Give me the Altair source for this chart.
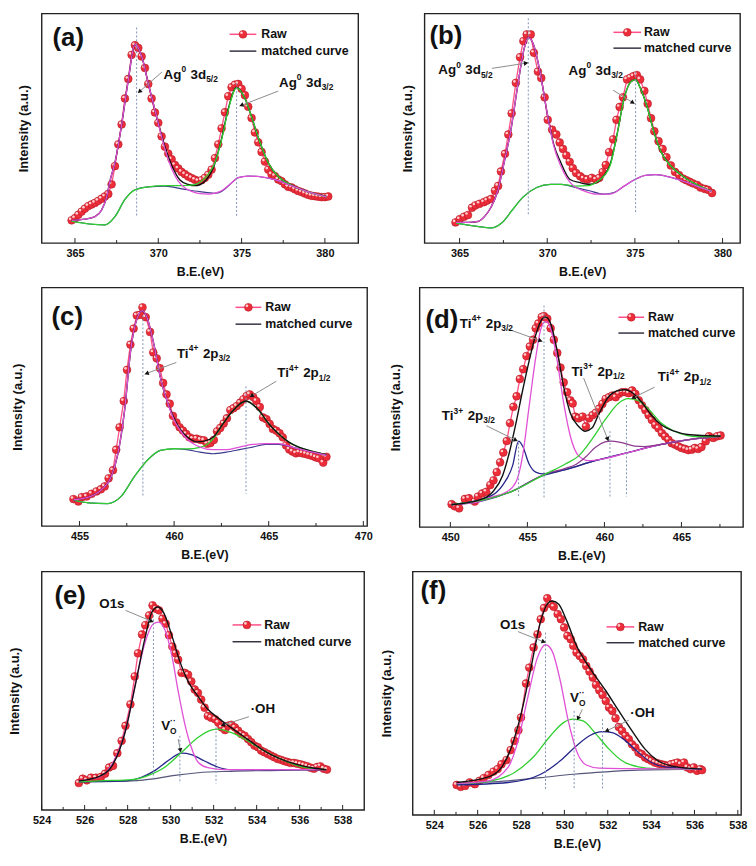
import math
import altair as alt
import pandas as pd

FONT = "Liberation Sans"

# ---------------- panel (a) : Ag 3d ----------------
A_RAW_X = [364.8, 365.0, 365.2, 365.4, 365.6, 365.8, 366.0, 366.2, 366.4, 366.6,
           366.8, 367.0, 367.2, 367.4, 367.6, 367.8, 368.0, 368.2, 368.4, 368.6,
           368.8, 369.0, 369.2, 369.4, 369.6, 369.8, 370.0, 370.2, 370.4, 370.6,
           370.8, 371.0, 371.2, 371.4, 371.6, 371.8, 372.0, 372.2, 372.4, 372.6,
           372.8, 373.0, 373.2, 373.4, 373.6, 373.8, 374.0, 374.2, 374.4, 374.6,
           374.8, 375.0, 375.2, 375.4, 375.6, 375.8, 376.0, 376.2, 376.4, 376.6,
           376.8, 377.0, 377.2, 377.4, 377.6, 377.8, 378.0, 378.2, 378.4, 378.6,
           378.8, 379.0, 379.2, 379.4, 379.6, 379.8, 380.0, 380.2]
A_RAW_Y = [9.9, 10.8, 12.3, 13.7, 15.0, 16.1, 16.8, 17.5, 18.4, 19.3,
           20.3, 21.4, 25.6, 33.5, 43.0, 51.7, 63.0, 71.5, 82.0, 86.2,
           85.0, 81.3, 76.3, 69.3, 63.0, 56.9, 52.4, 46.5, 42.0, 39.0,
           36.5, 34.0, 32.5, 31.0, 30.0, 29.0, 28.3, 27.6, 27.0, 27.4,
           28.4, 29.8, 32.0, 37.0, 43.0, 50.0, 57.0, 64.0, 67.9, 69.0,
           69.3, 67.2, 64.4, 59.4, 54.5, 48.2, 43.9, 39.7, 35.5, 32.0,
           29.9, 29.2, 27.7, 27.0, 25.6, 24.5, 24.2, 23.4, 22.7, 22.2,
           21.6, 21.0, 20.6, 20.4, 20.2, 20.0, 20.0, 20.3]
A_BG_X = [364.8, 366.0, 366.8, 367.4, 368.0, 368.6, 369.4, 370.4, 371.5, 372.5,
          373.4, 373.8, 374.3, 374.8, 375.4, 376.0, 377.0, 378.0, 379.0, 380.1]
A_BG_Y = [9.6, 8.2, 7.9, 11.5, 19.0, 23.2, 24.5, 24.8, 23.5, 22.4,
          21.7, 22.5, 25.5, 28.5, 29.2, 29.0, 27.6, 25.0, 22.3, 20.1]
A_PK_X = [364.8, 365.6, 366.2, 366.6, 366.9, 367.1, 367.4, 367.8, 368.2, 368.6,
          369.0, 369.4, 370.0, 370.4, 370.8, 371.2, 371.6, 372.0, 372.5, 373.0,
          373.4, 373.8, 374.3, 374.8, 375.4, 376.0, 377.0, 378.0, 379.0, 380.1]
A_PK_Y = [9.9, 10.4, 11.5, 14.4, 20.0, 27.0, 35.0, 51.5, 71.0, 86.5,
          81.5, 69.5, 52.2, 41.0, 32.5, 27.0, 24.0, 22.5, 21.5, 21.3,
          21.7, 22.8, 25.6, 28.5, 29.2, 29.0, 27.6, 25.0, 22.3, 20.1]
A_GR_X = [364.8, 366.0, 366.8, 367.4, 368.0, 368.6, 369.4, 370.4, 371.5, 372.2,
          372.6, 373.0, 373.4, 373.8, 374.2, 374.7, 375.2, 375.6, 376.0, 376.6,
          377.2, 378.0, 379.0, 380.1]
A_GR_Y = [9.6, 8.2, 7.9, 11.5, 19.0, 23.2, 24.5, 25.0, 25.0, 25.5,
          27.0, 30.0, 35.0, 45.0, 58.0, 67.6, 63.0, 55.0, 46.0, 35.0,
          29.0, 25.2, 22.3, 20.1]
A_BK_X = [364.8, 365.6, 366.2, 366.6, 366.9, 367.1, 367.4, 367.8, 368.2, 368.6,
          369.0, 369.4, 370.0, 370.4, 370.8, 371.3, 371.8, 372.2, 372.5, 372.9,
          373.3, 373.8, 374.2, 374.7, 375.2, 375.6, 376.0, 376.6, 377.2, 378.0,
          379.0, 380.1]
A_BK_Y = [9.9, 10.4, 11.5, 14.4, 20.0, 27.0, 35.0, 51.5, 71.0, 86.5,
          81.5, 69.5, 52.4, 42.0, 34.0, 27.5, 25.5, 25.0, 25.4, 27.7,
          32.7, 45.5, 58.5, 67.8, 63.0, 55.0, 46.0, 35.0, 29.0, 25.2,
          22.3, 20.3]
A_DOT_X = [368.7, 374.7]
A_DOT_Y1 = [93.9, 69.6]
A_DOT_Y2 = [11.5, 11.5]
A_TXT_X = [370.32, 377.25]
A_TXT_Y = [71.6, 68.2]
A_ARR = [[370.22, 74.5, 368.78, 65.4], [377.2, 66.2, 374.88, 59.7]]

# ---------------- panel (b) : Ag 3d ----------------
B_RAW_X = [364.77, 365.01, 365.26, 365.48, 365.71, 365.9, 366.14, 366.39, 366.57, 366.8,
           367.02, 367.2, 367.36, 367.59, 367.78, 367.97, 368.21, 368.45, 368.64, 368.83,
           369.06, 369.24, 369.47, 369.66, 369.85, 370.03, 370.28, 370.52, 370.71, 370.9,
           371.09, 371.28, 371.46, 371.65, 371.88, 372.07, 372.29, 372.54, 372.78, 372.97,
           373.16, 373.34, 373.53, 373.76, 373.95, 374.13, 374.32, 374.55, 374.74, 374.92,
           375.11, 375.3, 375.54, 375.73, 375.92, 376.11, 376.35, 376.58, 376.8, 377.05,
           377.29, 377.52, 377.75, 377.93, 378.12, 378.31, 378.55, 378.74, 378.99, 379.17,
           379.4]
B_RAW_Y = [9.0, 10.4, 11.5, 12.2, 15.4, 16.4, 17.1, 17.8, 18.5, 19.2,
           22.8, 24.9, 31.2, 38.9, 47.3, 56.5, 69.8, 81.0, 88.0, 90.9,
           90.9, 82.9, 74.7, 71.9, 63.5, 53.7, 49.4, 47.3, 43.8, 41.0,
           38.2, 35.4, 32.6, 30.5, 29.1, 28.1, 27.7, 28.4, 27.7, 28.4,
           30.9, 34.0, 39.6, 45.2, 53.7, 59.3, 63.5, 71.3, 72.0, 72.7,
           73.2, 71.3, 66.3, 60.7, 54.4, 48.7, 44.4, 41.0, 37.4, 33.8,
           31.0, 29.6, 28.1, 27.4, 26.7, 26.0, 25.3, 24.2, 23.6, 23.2,
           21.8]
B_BG_X = [364.8, 366.0, 366.8, 367.4, 368.0, 368.6, 369.4, 370.2, 370.8, 371.6,
          372.4, 373.2, 373.8, 374.4, 375.0, 375.6, 376.2, 377.0, 378.0, 379.0, 379.4]
B_BG_Y = [8.7, 7.3, 6.6, 8.7, 14.3, 19.9, 24.2, 25.6, 25.6, 24.2,
          22.8, 21.3, 22.0, 24.9, 27.7, 29.5, 29.8, 28.7, 26.3, 23.5, 22.5]
B_PK_X = [364.8, 365.48, 366.05, 366.42, 366.8, 367.18, 367.55, 367.93, 368.3, 368.68,
          368.92, 369.24, 369.62, 370.0, 370.37, 370.75, 371.12, 371.5, 372.07, 372.82,
          373.57, 374.4, 375.0, 375.6, 376.2, 377.0, 378.0, 379.0, 379.4]
B_PK_Y = [9.0, 9.0, 9.4, 11.5, 15.7, 22.8, 35.4, 49.4, 67.7, 84.6,
          89.5, 86.0, 73.3, 56.5, 42.4, 34.0, 28.4, 24.9, 22.8, 21.3,
          21.3, 24.9, 27.7, 29.5, 29.8, 28.7, 26.3, 23.5, 22.5]
B_GR_X = [364.8, 366.0, 366.8, 367.4, 368.0, 368.6, 369.4, 370.2, 370.8, 371.6,
          372.4, 372.8, 373.2, 373.6, 374.0, 374.4, 374.8, 375.04, 375.3, 375.7,
          376.1, 376.5, 377.0, 377.5, 378.0, 378.5, 379.0, 379.4]
B_GR_Y = [8.7, 7.3, 6.6, 8.7, 14.3, 19.9, 24.2, 25.6, 25.6, 24.8,
          25.0, 26.5, 29.0, 34.0, 48.0, 63.5, 70.5, 71.2, 67.7, 59.3,
          48.0, 39.6, 34.0, 30.5, 27.7, 25.6, 23.7, 22.5]
B_BK_X = [364.8, 365.48, 366.05, 366.42, 366.8, 367.18, 367.55, 367.93, 368.3, 368.68,
          368.92, 369.24, 369.62, 370.0, 370.37, 370.75, 371.3, 371.88, 372.44, 372.8,
          373.2, 373.6, 374.0, 374.4, 374.8, 375.04, 375.3, 375.7, 376.1, 376.5,
          377.0, 377.5, 378.0, 378.5, 379.0, 379.4]
B_BK_Y = [9.0, 9.0, 9.4, 11.5, 15.7, 22.8, 35.4, 49.4, 67.7, 84.6,
          89.5, 86.0, 73.3, 56.5, 43.0, 35.5, 27.7, 26.3, 25.6, 26.3,
          29.1, 34.5, 48.0, 63.5, 70.5, 71.2, 67.7, 59.3, 48.0, 39.6,
          34.0, 30.5, 27.7, 25.6, 23.7, 22.5]
B_DOT_X = [368.92, 375.04]
B_DOT_Y1 = [97.9, 74.7]
B_DOT_Y2 = [12.2, 12.6]
B_TXT_X = [363.79, 371.22]
B_TXT_Y = [73.6, 73.3]
B_ARR = [[366.84, 76.1, 368.9, 78.5], [373.76, 66.6, 374.98, 60.7]]

# ---------------- panel (c) : Ti 2p ----------------
C_RAW_X = [454.68, 454.94, 455.12, 455.38, 455.64, 455.9, 456.13, 456.33, 456.54, 456.77,
           456.94, 457.12, 457.34, 457.51, 457.69, 457.86, 458.03, 458.21, 458.33, 458.5,
           458.73, 458.9, 459.08, 459.25, 459.42, 459.6, 459.77, 459.94, 460.12, 460.29,
           460.47, 460.64, 460.81, 460.99, 461.19, 461.4, 461.58, 461.75, 461.92, 462.1,
           462.27, 462.44, 462.62, 462.79, 462.97, 463.14, 463.31, 463.49, 463.66, 463.83,
           464.0, 464.18, 464.35, 464.53, 464.7, 464.88, 465.05, 465.22, 465.4, 465.57,
           465.74, 465.92, 466.09, 466.26, 466.44, 466.61, 466.78, 466.96, 467.13, 467.31,
           467.48, 467.65, 467.88, 468.05]
C_RAW_Y = [11.3, 10.3, 12.1, 12.4, 13.5, 14.5, 15.4, 16.6, 20.0, 23.4,
           32.0, 41.4, 52.4, 65.5, 76.1, 82.8, 88.3, 88.6, 91.7, 87.6,
           81.4, 72.8, 70.3, 66.2, 60.0, 55.2, 51.3, 46.2, 43.4, 41.4,
           40.0, 38.6, 37.2, 36.6, 36.6, 36.1, 35.9, 34.5, 34.8, 36.1,
           39.7, 41.1, 43.0, 45.2, 48.6, 49.4, 50.3, 51.7, 53.1, 54.5,
           55.2, 54.1, 52.4, 49.9, 45.5, 44.8, 42.8, 40.7, 40.0, 38.9,
           37.2, 33.8, 32.1, 31.2, 30.5, 30.8, 30.5, 30.2, 29.8, 29.4,
           28.8, 28.4, 26.6, 29.0]
C_BG_X = [454.68, 455.47, 456.5, 457.2, 457.9, 458.59, 459.28, 459.98, 460.67, 461.37,
          462.06, 462.76, 463.45, 464.15, 464.84, 465.53, 466.23, 466.92, 468.05]
C_BG_Y = [10.8, 9.7, 9.4, 12.4, 20.7, 27.6, 31.7, 32.4, 32.0, 31.0,
          30.3, 31.0, 32.0, 33.1, 34.2, 34.2, 33.1, 31.7, 29.7]
C_PK_X = [454.68, 455.47, 456.16, 456.68, 457.03, 457.38, 457.72, 458.07, 458.33, 458.59,
          458.94, 459.28, 459.63, 459.98, 460.33, 460.67, 461.02, 461.37, 462.06, 462.76,
          463.45, 464.15, 464.84, 465.53, 466.23, 466.92, 468.05]
C_PK_Y = [11.0, 12.1, 15.2, 20.7, 30.3, 48.3, 74.5, 87.6, 90.3, 86.9,
          75.9, 62.1, 52.4, 44.8, 40.0, 36.6, 34.5, 33.1, 32.0, 32.0,
          33.1, 34.2, 34.5, 34.5, 33.1, 31.7, 29.7]
C_GR_X = [454.68, 455.47, 456.5, 457.2, 457.9, 458.59, 459.28, 459.98, 460.67, 461.37,
          461.8, 462.1, 462.58, 463.1, 463.8, 464.5, 465.01, 465.53, 466.06, 466.58,
          467.27, 468.05]
C_GR_Y = [10.8, 9.7, 9.4, 12.4, 20.7, 27.6, 31.7, 32.4, 32.3, 33.0,
          34.5, 37.0, 42.8, 48.3, 52.4, 48.3, 42.8, 38.6, 35.2, 33.1,
          31.4, 29.9]
C_BK_X = [454.68, 455.47, 456.16, 456.68, 457.03, 457.38, 457.72, 458.07, 458.33, 458.59,
          458.94, 459.28, 459.63, 459.98, 460.33, 460.67, 461.19, 461.54, 462.06, 462.58,
          463.1, 463.8, 464.5, 465.01, 465.53, 466.06, 466.58, 467.27, 468.05]
C_BK_Y = [11.0, 12.1, 15.2, 20.7, 30.3, 48.3, 74.5, 87.6, 90.3, 86.9,
          75.9, 62.1, 52.4, 45.5, 40.5, 37.5, 35.3, 35.5, 37.2, 42.8,
          48.3, 52.4, 48.3, 42.8, 38.6, 35.2, 33.1, 31.4, 29.9]
C_DOT_X = [458.35, 463.8]
C_DOT_Y1 = [88.3, 58.6]
C_DOT_Y2 = [12.4, 13.5]
C_TXT_X = [460.15, 465.45]
C_TXT_Y = [70.6, 62.3]
C_ARR = [[460.12, 68.6, 458.45, 63.7], [465.4, 60.7, 464.0, 54.1]]

# ---------------- panel (d) : Ti 2p ----------------
D_RAW_X = [450.08, 450.29, 450.57, 450.94, 451.21, 451.58, 451.79, 452.07, 452.33, 452.59,
           452.8, 453.01, 453.23, 453.44, 453.66, 453.87, 454.09, 454.3, 454.51, 454.73,
           454.94, 455.16, 455.37, 455.54, 455.71, 455.93, 456.08, 456.29, 456.51, 456.72,
           456.94, 457.15, 457.36, 457.58, 457.79, 457.94, 458.11, 458.33, 458.58, 458.8,
           459.01, 459.23, 459.44, 459.66, 459.87, 460.08, 460.3, 460.51, 460.73, 460.94,
           461.16, 461.37, 461.58, 461.8, 462.01, 462.23, 462.44, 462.66, 462.87, 463.08,
           463.3, 463.51, 463.73, 463.94, 464.16, 464.37, 464.58, 464.8, 465.01, 465.23,
           465.44, 465.66, 465.87, 466.08, 466.3, 466.58, 466.79, 467.07, 467.33, 467.54]
D_RAW_Y = [9.5, 8.6, 7.8, 11.7, 12.0, 10.6, 12.7, 14.0, 14.7, 17.5,
           19.5, 22.9, 27.0, 31.1, 35.9, 43.4, 50.2, 54.6, 61.8, 65.9,
           71.4, 75.4, 78.2, 83.0, 85.0, 87.7, 88.1, 87.0, 83.0, 78.2,
           72.7, 66.6, 60.4, 56.3, 52.9, 51.6, 46.1, 45.4, 46.1, 42.0,
           45.4, 46.7, 47.7, 49.4, 51.4, 53.5, 54.2, 54.9, 54.2, 55.6,
           56.3, 56.3, 55.9, 57.0, 55.6, 52.9, 50.8, 48.8, 46.7, 44.7,
           42.6, 41.2, 39.2, 37.8, 36.4, 35.0, 34.4, 33.7, 33.0, 32.6,
           32.1, 32.3, 33.0, 32.6, 33.4, 35.8, 37.9, 37.2, 37.9, 38.2]
D_BG_X = [450.08, 451.9, 454.04, 455.76, 457.26, 459.4, 461.54, 463.69, 465.83, 467.54]
D_BG_Y = [9.3, 10.6, 15.0, 20.9, 23.6, 27.7, 31.1, 34.5, 36.8, 37.9]
D_T3A_X = [450.08, 452.54, 453.4, 454.04, 454.43, 454.69, 455.11, 455.54, 455.97, 457.26,
           459.4, 461.54, 463.69, 465.83, 467.54]
D_T3A_Y = [9.3, 12.7, 17.5, 25.6, 35.9, 33.8, 26.3, 22.9, 22.2, 23.6,
           27.7, 31.1, 34.5, 36.8, 37.9]
D_PK_X = [450.08, 451.9, 452.54, 453.61, 454.26, 454.69, 455.11, 455.54, 455.86, 456.19,
          456.51, 456.94, 457.36, 457.79, 458.33, 458.97, 459.4, 461.54, 463.69, 465.83, 467.54]
D_PK_Y = [9.3, 10.6, 12.3, 14.5, 18.8, 29.7, 50.2, 70.7, 82.3, 85.9,
          82.9, 69.3, 51.6, 37.9, 29.7, 27.7, 27.9, 31.1, 34.5, 36.8, 37.9]
D_PU_X = [450.08, 454.04, 456.19, 457.47, 458.2, 458.76, 459.4, 460.04, 460.47, 461.11,
          461.97, 462.61, 463.69, 465.83, 467.54]
D_PU_Y = [9.3, 15.0, 22.2, 24.5, 26.3, 29.1, 33.2, 35.5, 35.9, 35.2,
          33.8, 33.6, 34.5, 36.8, 37.9]
D_GR_X = [450.08, 454.04, 456.19, 457.47, 458.33, 459.19, 460.04, 460.9, 461.54, 462.18,
          462.83, 463.69, 464.54, 465.4, 466.26, 467.54]
D_GR_Y = [9.3, 15.0, 22.2, 26.3, 29.7, 36.6, 44.7, 51.6, 53.6, 52.9,
          49.5, 43.4, 40.0, 38.2, 37.7, 37.9]
D_BK_X = [450.08, 451.9, 452.76, 453.4, 453.83, 454.26, 454.69, 455.11, 455.54, 455.97,
          456.19, 456.51, 456.94, 457.36, 457.79, 458.33, 458.76, 459.19, 459.61, 460.26,
          460.9, 461.33, 461.76, 462.4, 463.04, 463.69, 464.54, 465.4, 467.54]
D_BK_Y = [9.3, 11.3, 14.7, 21.6, 31.1, 43.4, 57.0, 69.3, 80.2, 87.0,
          87.7, 85.0, 73.4, 58.4, 47.5, 42.0, 40.0, 41.3, 46.8, 54.3,
          57.0, 57.3, 56.3, 52.3, 46.8, 42.7, 40.0, 38.6, 37.9]
D_DOT_X = [454.43, 456.08, 460.36, 461.43]
D_DOT_Y1 = [35.2, 92.5, 40.0, 50.9]
D_DOT_Y2 = [12.0, 12.0, 12.7, 12.7]
D_TXT_X = [450.61, 457.86, 463.47, 449.44]
D_TXT_Y = [83.2, 63.2, 60.8, 44.7]
D_ARR = [[453.72, 82.7, 455.97, 77.5], [458.65, 62.2, 460.26, 35.9],
         [463.26, 58.4, 461.76, 53.6], [452.33, 42.3, 454.36, 35.9]]

# ---------------- panel (e) : O 1s ----------------
E_RAW_X = [525.73, 525.91, 526.1, 526.3, 526.53, 526.76, 526.95, 527.14, 527.32, 527.52,
           527.72, 527.9, 528.13, 528.33, 528.48, 528.67, 528.82, 529.0, 529.16, 529.31,
           529.46, 529.62, 529.77, 529.92, 530.08, 530.23, 530.35, 530.51, 530.66, 530.81,
           530.96, 531.12, 531.27, 531.42, 531.58, 531.73, 531.88, 532.07, 532.22, 532.37,
           532.53, 532.68, 532.83, 532.99, 533.14, 533.29, 533.44, 533.6, 533.75, 533.9,
           534.06, 534.21, 534.36, 534.52, 534.67, 534.82, 534.98, 535.13, 535.28, 535.43,
           535.59, 535.74, 535.89, 536.05, 536.2, 536.35, 536.51, 536.66, 536.81, 536.96,
           537.12, 537.27]
E_RAW_Y = [11.3, 13.1, 12.4, 13.5, 13.5, 13.8, 15.2, 17.8, 18.5, 23.8,
           29.0, 35.3, 44.3, 56.0, 65.7, 73.6, 77.5, 81.6, 85.8, 84.4,
           83.7, 80.2, 78.1, 73.3, 68.5, 65.7, 63.0, 57.5, 57.5, 56.7,
           53.9, 50.5, 49.1, 46.3, 42.9, 39.4, 38.7, 38.0, 36.6, 34.6,
           33.5, 35.3, 35.7, 34.6, 33.2, 31.8, 31.1, 29.7, 28.4, 27.0,
           26.3, 24.9, 24.2, 23.5, 22.8, 22.1, 21.4, 21.0, 20.5, 20.1,
           19.7, 19.7, 19.4, 19.1, 18.7, 18.3, 17.7, 17.3, 18.0, 18.3,
           17.3, 16.9]
E_BG_X = [525.73, 528.2, 529.28, 530.2, 531.27, 532.8, 535.1, 537.24]
E_BG_Y = [11.8, 12.2, 13.1, 14.5, 15.6, 16.2, 16.6, 16.9]
E_PK_X = [525.73, 526.68, 527.29, 527.9, 528.36, 528.82, 529.2, 529.43, 529.74, 530.05,
          530.35, 530.66, 530.96, 531.27, 531.73, 532.5, 535.1, 537.24]
E_PK_Y = [12.2, 13.8, 19.4, 33.2, 52.6, 70.5, 78.1, 78.8, 75.4, 65.0,
          49.8, 36.0, 26.3, 20.1, 17.7, 16.9, 16.9, 16.9]
E_NV_X = [525.73, 527.9, 528.67, 529.28, 529.89, 530.51, 530.96, 531.58, 532.19, 532.8,
          535.1, 537.24]
E_NV_Y = [11.8, 12.2, 13.8, 16.6, 20.7, 23.8, 23.2, 20.5, 18.0, 16.9, 16.9, 16.9]
E_GR_X = [525.73, 526.68, 528.2, 528.97, 529.74, 530.51, 531.27, 531.88, 532.19, 532.8,
          533.57, 534.33, 535.1, 535.86, 536.63, 537.24]
E_GR_Y = [11.8, 12.2, 12.7, 14.5, 18.0, 24.2, 30.4, 33.5, 33.9, 32.5,
          29.0, 24.9, 21.4, 18.7, 17.3, 16.9]
E_BK_X = [525.73, 526.68, 527.29, 527.9, 528.36, 528.82, 529.13, 529.4, 529.66, 530.05,
          530.43, 530.81, 531.27, 531.73, 532.19, 532.8, 533.57, 534.33, 535.1, 535.86,
          536.63, 537.24]
E_BK_Y = [12.2, 14.1, 18.7, 33.2, 52.6, 72.6, 83.0, 85.1, 83.0, 73.3,
          62.2, 53.9, 47.7, 42.2, 38.7, 34.6, 29.7, 24.9, 21.4, 19.1,
          17.6, 16.9]
E_DOT_X = [529.2, 530.43, 532.11]
E_DOT_Y1 = [81.6, 31.1, 34.6]
E_DOT_Y2 = [12.2, 11.1, 11.1]
E_TXT_X = [526.68, 529.56, 533.72]
E_TXT_Y = [84.6, 33.5, 40.8]
E_ARR = [[527.9, 83.7, 529.2, 78.8], [530.35, 29.7, 530.47, 24.2], [533.64, 39.1, 532.34, 35.3]]

# ---------------- panel (f) : O 1s ----------------
F_RAW_X = [525.03, 525.22, 525.42, 525.63, 525.87, 526.08, 526.28, 526.5, 526.73, 526.92,
           527.1, 527.33, 527.52, 527.7, 527.88, 528.0, 528.23, 528.38, 528.58, 528.76,
           528.91, 529.06, 529.21, 529.36, 529.51, 529.69, 529.84, 529.99, 530.14, 530.29,
           530.41, 530.56, 530.71, 530.86, 531.01, 531.16, 531.31, 531.46, 531.61, 531.76,
           531.91, 532.06, 532.21, 532.36, 532.51, 532.66, 532.82, 532.97, 533.12, 533.27,
           533.42, 533.57, 533.72, 533.87, 534.02, 534.17, 534.32, 534.47, 534.62, 534.77,
           534.92, 535.07, 535.22, 535.37, 535.52, 535.67, 535.82, 535.97, 536.12, 536.27,
           536.35]
F_RAW_Y = [12.3, 11.5, 11.9, 13.3, 12.6, 14.0, 15.1, 16.4, 17.8, 18.8,
           20.8, 22.5, 26.6, 30.4, 34.8, 40.0, 54.0, 60.5, 68.8, 74.2,
           80.4, 85.0, 89.0, 86.6, 85.5, 82.5, 80.4, 77.0, 73.6, 72.2,
           69.5, 66.7, 65.3, 63.9, 61.2, 58.9, 56.4, 53.4, 51.2, 49.3,
           46.8, 44.1, 42.7, 39.7, 36.1, 34.5, 32.5, 31.1, 29.0, 27.7,
           25.6, 24.9, 23.6, 22.9, 22.2, 21.5, 21.1, 20.8, 20.5, 20.1,
           20.8, 21.1, 21.5, 20.8, 21.5, 19.5, 18.8, 19.5, 18.1, 18.8,
           18.4]
F_BG_X = [525.03, 527.4, 528.91, 530.41, 531.91, 533.42, 536.35]
F_BG_Y = [12.9, 14.0, 15.3, 16.7, 17.7, 18.4, 18.8]
F_PK_X = [525.03, 526.5, 527.4, 527.86, 528.31, 528.76, 529.13, 529.43, 529.81, 530.18,
          530.56, 531.01, 531.61, 533.0, 536.35]
F_PK_Y = [12.9, 14.0, 19.5, 30.4, 48.2, 64.7, 69.9, 67.4, 55.1, 38.6,
          26.3, 20.5, 19.2, 19.0, 18.8]
F_GR_X = [525.03, 526.65, 527.7, 528.61, 529.36, 529.96, 530.41, 530.86, 531.46, 532.06,
          532.66, 533.42, 534.17, 536.35]
F_GR_Y = [12.6, 14.0, 17.4, 24.2, 32.5, 37.9, 39.3, 38.6, 33.2, 27.0,
          22.2, 19.7, 19.0, 18.8]
F_NV_X = [525.03, 527.4, 528.91, 529.81, 530.56, 531.16, 531.76, 532.21, 532.82, 533.42,
          534.02, 534.62, 536.35]
F_NV_Y = [12.3, 13.3, 16.7, 22.2, 28.4, 32.5, 34.2, 33.8, 30.4, 25.6,
          21.5, 19.7, 18.8]
F_BK_X = [525.03, 526.5, 527.1, 527.55, 528.0, 528.46, 528.91, 529.21, 529.43, 529.73,
          530.11, 530.56, 531.16, 531.91, 532.51, 533.12, 533.72, 534.32, 534.92, 535.67,
          536.35]
F_BK_Y = [13.3, 15.6, 19.5, 27.7, 41.4, 60.5, 79.7, 86.6, 87.9, 86.6,
          79.7, 69.5, 60.5, 51.0, 42.7, 34.5, 27.0, 22.2, 20.1, 19.2, 18.8]
F_DOT_X = [529.13, 530.45, 531.76]
F_DOT_Y1 = [74.9, 42.7, 39.3]
F_DOT_Y2 = [10.5, 10.5, 10.5]
F_TXT_X = [527.03, 530.26, 533.04]
F_TXT_Y = [76.3, 46.2, 40.3]
F_ARR = [[527.86, 75.3, 529.13, 70.8], [530.83, 43.4, 530.59, 38.9], [532.97, 38.9, 531.87, 34.2]]

# ---------------- text content ----------------
LBL_AG52 = [("Ag", "n", 1), ("0", "sup", 1), (" 3d", "n", 1), ("5/2", "sub", 1)]
LBL_AG32 = [("Ag", "n", 1), ("0", "sup", 1), (" 3d", "n", 1), ("3/2", "sub", 1)]
LBL_T4_32 = [("Ti", "n", 1), ("4+", "sup", 1), (" 2p", "n", 1), ("3/2", "sub", 1)]
LBL_T4_12 = [("Ti", "n", 1), ("4+", "sup", 1), (" 2p", "n", 1), ("1/2", "sub", 1)]
LBL_T3_32 = [("Ti", "n", 1), ("3+", "sup", 1), (" 2p", "n", 1), ("3/2", "sub", 1)]
LBL_T3_12 = [("Ti", "n", 1), ("3+", "sup", 1), (" 2p", "n", 1), ("1/2", "sub", 1)]
LBL_O1S = [("O1s", "n", 1)]
LBL_VO = [("V", "n", 1), ("O", "sub", 0), ("··", "sup", 1)]
LBL_OH = [("·OH", "n", 1)]

# ---------------- styles ----------------
RAW_LINE = "#ff4f86"
RAW_FILL = "#ee2d3a"
RAW_EDGE = "#b51d28"
PINK = "#e04fd6"
GREEN = "#2fcf2f"
NAVY = "#25258a"
BGC = "#3c3c8c"
BGO = "#55557a"
PURPLE = "#8e3c8e"
BLACK = "#111111"
DOT = "#7f93b5"
ARROW = "#8c8c8c"
MSIZE = 62

CW = {"A": .722, "g": .611, " ": .278, "d": .611, "T": .611, "i": .278, "p": .611,
      "+": .584, "/": .278, "O": .778, "s": .556, "V": .667, "H": .722, "·": .278}


def tw(t, fs):
    return sum(CW.get(ch, .556) for ch in t) * fs


def make_panel(c):
    W, H = c["w"], c["h"]
    x0, x1 = c["xdom"]
    sx, sy = W / (x1 - x0), H / 100.0
    xs = alt.Scale(domain=[x0, x1], nice=False, zero=False)
    ys = alt.Scale(domain=[0, 100], nice=False, zero=False)
    ax = alt.Axis(values=c["major"], ticks=False, domain=False, grid=False,
                  labelFontSize=11, labelFontWeight="bold", labelPadding=5,
                  labelColor="#111", labelFlush=False, format="d",
                  titleFontSize=12.5, titleFontWeight="bold", titlePadding=7,
                  titleColor="#111")
    ay = alt.Axis(labels=False, ticks=False, domain=False, grid=False,
                  titleFontSize=13, titleFontWeight="bold", titlePadding=c["ypad"],
                  titleColor="#111", minExtent=0)

    def X(f):
        return alt.X(f"{f}:Q", scale=xs, axis=ax, title="B.E.(eV)")

    def Y(f):
        return alt.Y(f"{f}:Q", scale=ys, axis=ay, title="Intensity (a.u.)")

    L = []
    raw = pd.DataFrame({"x": c["raw"][0], "y": c["raw"][1]})
    L.append(alt.Chart(raw).mark_line(color=RAW_LINE, strokeWidth=1.3)
             .encode(x=X("x"), y=Y("y")))
    L.append(alt.Chart(raw).mark_point(shape="circle", filled=True, size=MSIZE, color=RAW_FILL,
                                       stroke=RAW_EDGE, strokeWidth=0.6, opacity=1)
             .encode(x=X("x"), y=Y("y")))
    L.append(alt.Chart(raw).mark_point(shape="circle", filled=True, size=7, color="#ffe0e0",
                                       opacity=0.9, xOffset=-1.5, yOffset=-1.5)
             .encode(x=X("x"), y=Y("y")))
    for cx, cy, col, sw in c["curves"]:
        L.append(alt.Chart(pd.DataFrame({"x": cx, "y": cy}))
                 .mark_line(color=col, strokeWidth=sw, interpolate="monotone")
                 .encode(x=X("x"), y=Y("y")))
    dots = pd.DataFrame({"x": c["dots"][0], "y": c["dots"][1], "y2": c["dots"][2]})
    L.append(alt.Chart(dots).mark_rule(color=DOT, strokeWidth=1, strokeDash=[2, 2])
             .encode(x=X("x"), y=Y("y"), y2=alt.Y2("y2")))
    L.append(alt.Chart(pd.DataFrame({"t": c["major"]})).mark_rule(color="#222", strokeWidth=1)
             .encode(x=X("t"), y=alt.value(H), y2=alt.value(H - 5)))
    L.append(alt.Chart(pd.DataFrame({"t": c["minor"]})).mark_rule(color="#222", strokeWidth=1)
             .encode(x=X("t"), y=alt.value(H), y2=alt.value(H - 3)))
    # arrows
    arr = pd.DataFrame(c["arr"], columns=["x", "y", "x2", "y2"])
    L.append(alt.Chart(arr).mark_rule(color=ARROW, strokeWidth=1)
             .encode(x=X("x"), y=Y("y"), x2=alt.X2("x2"), y2=alt.Y2("y2")))
    hx, hy, ang = [], [], []
    for a1, b1, a2, b2 in c["arr"]:
        dxp = (a2 - a1) * sx
        dyp = -(b2 - b1) * sy
        n = math.hypot(dxp, dyp) or 1.0
        ux, uy = dxp / n, dyp / n
        hx.append(a2 - ux * 2.0 / sx)
        hy.append(b2 + uy * 2.0 / sy)
        ang.append(math.degrees(math.atan2(dxp, -dyp)) % 360)
    heads = pd.DataFrame({"x": hx, "y": hy, "ang": ang})
    L.append(alt.Chart(heads).mark_point(shape="triangle-up", filled=True, size=24,
                                         color="#111", opacity=1)
             .encode(x=X("x"), y=Y("y"), angle=alt.Angle("ang:Q", scale=None)))
    # annotation texts (leading blanks are turned into offsets: SVG drops them)
    for (tx, ty), parts in zip(zip(c["txt"][0], c["txt"][1]), c["labels"]):
        dx = 0.0
        pos = pd.DataFrame({"x": [tx], "y": [ty]})
        for t, kind, adv in parts:
            fs = 13.5 if kind == "n" else 8.5
            dy = 0 if kind == "n" else (-6.5 if kind == "sup" else 3.5)
            lead = len(t) - len(t.lstrip(" "))
            dx += tw(" " * lead, fs)
            body = t.lstrip(" ")
            L.append(alt.Chart(pos).mark_text(text=body, align="left", baseline="alphabetic",
                                              dx=dx, dy=dy, fontSize=fs, fontWeight="bold",
                                              font=FONT, color="#111")
                     .encode(x=X("x"), y=Y("y")))
            if adv:
                dx += tw(body, fs) + (0.8 if kind != "n" else 0)
    # legend
    one = pd.DataFrame({"k": [0]})
    lx0, lx1, ltx, ry, my = c["leg"]
    L.append(alt.Chart(one).mark_rule(color=RAW_LINE, strokeWidth=1.5)
             .encode(x=alt.value(lx0), x2=alt.value(lx1), y=alt.value(ry)))
    L.append(alt.Chart(one).mark_point(shape="circle", filled=True, size=MSIZE, color=RAW_FILL,
                                       stroke=RAW_EDGE, strokeWidth=0.6, opacity=1)
             .encode(x=alt.value((lx0 + lx1) / 2), y=alt.value(ry)))
    L.append(alt.Chart(one).mark_point(shape="circle", filled=True, size=7, color="#ffe0e0",
                                       opacity=0.9)
             .encode(x=alt.value((lx0 + lx1) / 2 - 1.5), y=alt.value(ry - 1.5)))
    L.append(alt.Chart(one).mark_rule(color="#333344", strokeWidth=1.5)
             .encode(x=alt.value(lx0), x2=alt.value(lx1), y=alt.value(my)))
    for txt, yy in (("Raw", ry), ("matched curve", my)):
        L.append(alt.Chart(one).mark_text(align="left", baseline="middle", fontSize=12.5,
                                          fontWeight="bold", font=FONT, color="#111")
                 .encode(x=alt.value(ltx), y=alt.value(yy), text=alt.value(txt)))
    # panel label
    plx, ply = c["plab"]
    L.append(alt.Chart(one).mark_text(align="left", baseline="middle", fontSize=26,
                                      fontWeight="bold", font=FONT, color="#111")
             .encode(x=alt.value(plx), y=alt.value(ply), text=alt.value(c["name"])))
    return alt.layer(*L).properties(width=W, height=H)


MAJ_AG = [365, 370, 375, 380]
MIN_AG = [367.5, 372.5, 377.5]

PA = dict(name="(a)", w=320, h=232, xdom=[363, 382], ypad=11, major=MAJ_AG, minor=MIN_AG,
          raw=(A_RAW_X, A_RAW_Y),
          curves=[(A_BG_X, A_BG_Y, BGC, 1.2), (A_BK_X, A_BK_Y, BLACK, 1.4),
                  (A_GR_X, A_GR_Y, GREEN, 1.3), (A_PK_X, A_PK_Y, PINK, 1.3)],
          dots=(A_DOT_X, A_DOT_Y1, A_DOT_Y2), txt=(A_TXT_X, A_TXT_Y),
          labels=[LBL_AG52, LBL_AG32], arr=A_ARR,
          leg=(190, 217, 222, 21, 38), plab=(11, 25))
PB = dict(name="(b)", w=319, h=232, xdom=[363, 381], ypad=10, major=MAJ_AG, minor=MIN_AG,
          raw=(B_RAW_X, B_RAW_Y),
          curves=[(B_BG_X, B_BG_Y, BGC, 1.2), (B_BK_X, B_BK_Y, BLACK, 1.4),
                  (B_GR_X, B_GR_Y, GREEN, 1.3), (B_PK_X, B_PK_Y, PINK, 1.3)],
          dots=(B_DOT_X, B_DOT_Y1, B_DOT_Y2), txt=(B_TXT_X, B_TXT_Y),
          labels=[LBL_AG52, LBL_AG32], arr=B_ARR,
          leg=(191, 219, 222, 19, 35), plab=(5, 23))
PC = dict(name="(c)", w=329, h=241, xdom=[453, 470.2], ypad=17,
          major=[455, 460, 465, 470], minor=[457.5, 462.5, 467.5],
          raw=(C_RAW_X, C_RAW_Y),
          curves=[(C_BG_X, C_BG_Y, BGC, 1.2), (C_GR_X, C_GR_Y, GREEN, 1.3),
                  (C_BK_X, C_BK_Y, BLACK, 1.4), (C_PK_X, C_PK_Y, PINK, 1.3)],
          dots=(C_DOT_X, C_DOT_Y1, C_DOT_Y2), txt=(C_TXT_X, C_TXT_Y),
          labels=[LBL_T4_32, LBL_T4_12], arr=C_ARR,
          leg=(196, 222, 226, 20, 37), plab=(10, 30))
PD = dict(name="(d)", w=327, h=242, xdom=[448, 469], ypad=17,
          major=[450, 455, 460, 465], minor=[452.5, 457.5, 462.5, 467.5],
          raw=(D_RAW_X, D_RAW_Y),
          curves=[(D_BG_X, D_BG_Y, BGC, 1.2), (D_T3A_X, D_T3A_Y, NAVY, 1.3),
                  (D_PK_X, D_PK_Y, PINK, 1.3), (D_PU_X, D_PU_Y, PURPLE, 1.3),
                  (D_GR_X, D_GR_Y, GREEN, 1.3), (D_BK_X, D_BK_Y, BLACK, 1.4)],
          dots=(D_DOT_X, D_DOT_Y1, D_DOT_Y2), txt=(D_TXT_X, D_TXT_Y),
          labels=[LBL_T4_32, LBL_T3_12, LBL_T4_12, LBL_T3_32], arr=D_ARR,
          leg=(201, 227, 231, 30, 46), plab=(6, 33))
MAJ_O = [524, 526, 528, 530, 532, 534, 536, 538]
MIN_O = [525, 527, 529, 531, 533, 535, 537]
PE = dict(name="(e)", w=326, h=241, xdom=[524, 539], ypad=20, major=MAJ_O, minor=MIN_O,
          raw=(E_RAW_X, E_RAW_Y),
          curves=[(E_BG_X, E_BG_Y, BGO, 1.2), (E_NV_X, E_NV_Y, NAVY, 1.3),
                  (E_GR_X, E_GR_Y, GREEN, 1.3), (E_PK_X, E_PK_Y, PINK, 1.3),
                  (E_BK_X, E_BK_Y, BLACK, 1.4)],
          dots=(E_DOT_X, E_DOT_Y1, E_DOT_Y2), txt=(E_TXT_X, E_TXT_Y),
          labels=[LBL_O1S, LBL_VO, LBL_OH], arr=E_ARR,
          leg=(193, 222, 225, 54, 71), plab=(13, 25))
PF = dict(name="(f)", w=332, h=246, xdom=[523, 538.15], ypad=19, major=MAJ_O, minor=MIN_O,
          raw=(F_RAW_X, F_RAW_Y),
          curves=[(F_BG_X, F_BG_Y, BGO, 1.2), (F_GR_X, F_GR_Y, GREEN, 1.3),
                  (F_NV_X, F_NV_Y, NAVY, 1.3), (F_PK_X, F_PK_Y, PINK, 1.3),
                  (F_BK_X, F_BK_Y, BLACK, 1.4)],
          dots=(F_DOT_X, F_DOT_Y1, F_DOT_Y2), txt=(F_TXT_X, F_TXT_Y),
          labels=[LBL_O1S, LBL_VO, LBL_OH], arr=F_ARR,
          leg=(196, 224, 228, 56, 72), plab=(8, 20))

row1 = alt.hconcat(make_panel(PA), make_panel(PB), spacing=42)
row2 = alt.hconcat(make_panel(PC), make_panel(PD), spacing=15)
row3 = alt.hconcat(make_panel(PE), make_panel(PF), spacing=15)

chart = (alt.vconcat(row1, row2, row3, spacing=7)
         .properties(padding=0, background="white")
         .configure(font=FONT)
         .configure_view(stroke="#222222", strokeWidth=1.4))

chart.save("out.html", embed_options={"renderer": "svg", "actions": False})
